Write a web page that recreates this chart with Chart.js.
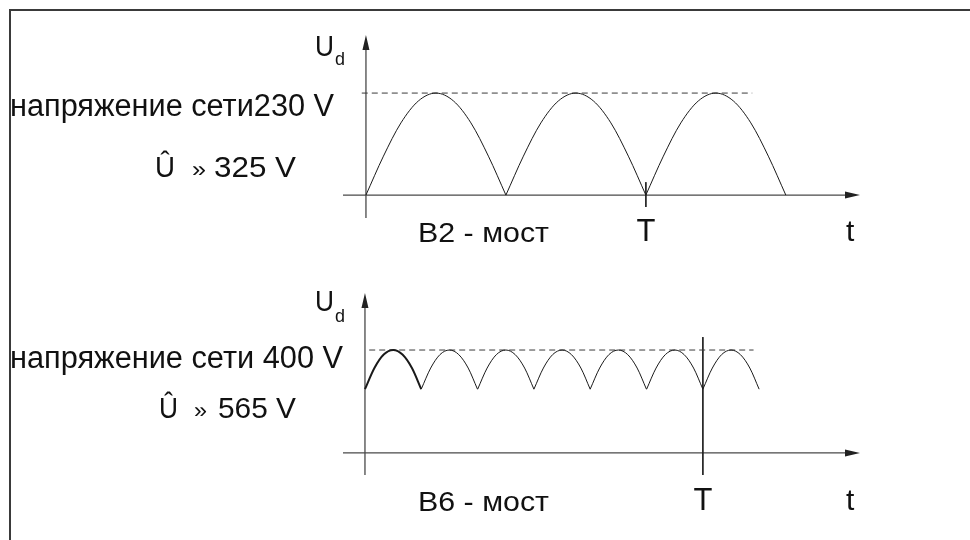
<!DOCTYPE html>
<html>
<head>
<meta charset="utf-8">
<script src="https://cdn.jsdelivr.net/npm/chart.js@4/dist/chart.umd.min.js"></script>
<style>
  body { margin: 0; background: #fff; }
  #wrap { position: relative; width: 970px; height: 540px; overflow: hidden; }
  #frame { position: absolute; left: 9px; top: 9px; width: 970px; height: 540px;
           border-top: 2px solid #3a3a3a; border-left: 2px solid #3a3a3a; }
  .panel { position: absolute; left: 0; }
</style>
</head>
<body>
<div id="wrap">
  <div id="frame"></div>
  <canvas id="b2Chart" class="panel" style="top:0" width="970" height="270"></canvas>
  <canvas id="b6Chart" class="panel" style="top:270px" width="970" height="270"></canvas>
</div>
<script>
// B2 bridge, 230 V mains: three half waves of 10 ms, peak 325 V
const b2Starts = [0, 10, 20];                                   // ms
const b2Offsets = [0, 1.25, 2.5, 3.75, 5, 6.25, 7.5, 8.75, 10]; // ms inside one half wave
const b2Values = [0, 124, 230, 300, 325, 300, 230, 124, 0];     // V
const b2Peak = 325;
const b2PeakLine = [-0.3, 27.6];                                // ms, dashed line ends
const b2Tick = [41, -38];                                       // V, short mark at T

// B6 bridge, 400 V mains: six pulses per period, peak 565 V
const b6Starts = [0, 3.33, 6.67, 10, 13.33, 16.67, 20];         // ms
const b6Offsets = [0, 0.56, 1.11, 1.67, 2.22, 2.78, 3.33];
const b6Values = [350, 466, 540, 565, 540, 466, 350];           // V
const b6Peak = 565;
const b6PeakLine = [0.25, 23];
const b6Tick = [636, -121];

const periodT = 20; // ms

const FONT = '"Liberation Sans", Arial, sans-serif';

// axes with arrow heads through the zero of each scale
const arrowAxes = {
  id: 'arrowAxes',
  beforeDatasetsDraw(chart) {
    const ctx = chart.ctx;
    const a = chart.chartArea;
    const x0 = chart.scales.x.getPixelForValue(0);
    const y0 = chart.scales.y.getPixelForValue(0);
    ctx.save();
    ctx.strokeStyle = '#4a4a4a';
    ctx.fillStyle = '#222';
    ctx.lineWidth = 1.3;
    ctx.beginPath();
    ctx.moveTo(a.left, y0); ctx.lineTo(a.right - 12, y0);
    ctx.moveTo(x0, a.bottom); ctx.lineTo(x0, a.top + 12);
    ctx.stroke();
    ctx.beginPath();
    ctx.moveTo(a.right, y0); ctx.lineTo(a.right - 15, y0 - 3.5); ctx.lineTo(a.right - 15, y0 + 3.5); ctx.closePath();
    ctx.moveTo(x0, a.top); ctx.lineTo(x0 - 3.5, a.top + 15); ctx.lineTo(x0 + 3.5, a.top + 15); ctx.closePath();
    ctx.fill();
    ctx.restore();
  }
};

// text labels, stretched to the width they have in the drawing
function textLabels(items) {
  return {
    id: 'textLabels',
    afterDraw(chart) {
      const ctx = chart.ctx;
      ctx.save();
      ctx.fillStyle = '#111';
      ctx.textBaseline = 'alphabetic';
      items.forEach(function(it) {
        ctx.font = it.size + 'px ' + FONT;
        const w = ctx.measureText(it.text).width;
        const target = it.w || w;
        let left = it.x;
        if (it.t !== undefined) left = chart.scales.x.getPixelForValue(it.t) - target / 2;
        ctx.save();
        ctx.translate(left, it.y);
        ctx.scale(target / w, 1);
        ctx.fillText(it.text, 0, 0);
        ctx.restore();
      });
      ctx.restore();
    }
  };
}

function arches(starts, offsets, values, widths) {
  return starts.map(function(s, i) {
    return {
      data: offsets.map(function(o, k) { return { x: s + o, y: values[k] }; }),
      borderColor: '#1a1a1a',
      borderWidth: widths ? widths[i] : 1,
      cubicInterpolationMode: 'monotone',
      pointRadius: 0
    };
  });
}

function guide(points, dash, color) {
  return {
    data: points,
    borderColor: color,
    borderWidth: 1,
    borderDash: dash,
    pointRadius: 0
  };
}

function baseOptions(xmin, xmax, ymin, ymax, padding) {
  return {
    responsive: false,
    animation: false,
    layout: { padding: padding },
    plugins: { legend: { display: false }, tooltip: { enabled: false } },
    scales: {
      x: { type: 'linear', display: false, min: xmin, max: xmax },
      y: { type: 'linear', display: false, min: ymin, max: ymax }
    }
  };
}

document.addEventListener('DOMContentLoaded', function() {
  // B2 chart
  const b2Ctx = document.getElementById('b2Chart');
  const b2Sets = arches(b2Starts, b2Offsets, b2Values);
  b2Sets.push(guide(b2PeakLine.map(function(t) { return { x: t, y: b2Peak }; }), [6, 4], '#3a3a3a'));
  b2Sets.push(guide(b2Tick.map(function(v) { return { x: periodT, y: v }; }), [], '#222'));
  new Chart(b2Ctx, {
    type: 'line',
    data: { datasets: b2Sets },
    options: baseOptions(-1.64, 35.3, -73, 510, { left: 343, right: 110, top: 35, bottom: 52 }),
    plugins: [arrowAxes, textLabels([
      { text: 'напряжение сети230 V', x: 10, y: 116, size: 31, w: 324 },
      { text: 'Û', x: 155, y: 177, size: 29, w: 20 },
      { text: '»', x: 192, y: 177, size: 22, w: 14 },
      { text: '325 V', x: 214, y: 177, size: 29, w: 82 },
      { text: 'U', x: 315, y: 56, size: 30, w: 19 },
      { text: 'd', x: 335, y: 65, size: 18, w: 10 },
      { text: 'B2 - мост', x: 418, y: 242, size: 28, w: 131 },
      { text: 'T', t: periodT, y: 241, size: 31 },
      { text: 't', x: 846, y: 241, size: 30 }
    ])]
  });

  // B6 chart
  const b6Ctx = document.getElementById('b6Chart');
  const b6Sets = arches(b6Starts, b6Offsets, b6Values, [2, 1, 1, 1, 1, 1, 1]);
  b6Sets.push(guide(b6PeakLine.map(function(t) { return { x: t, y: b6Peak }; }), [6, 4], '#3a3a3a'));
  b6Sets.push(guide(b6Tick.map(function(v) { return { x: periodT, y: v }; }), [], '#222'));
  new Chart(b6Ctx, {
    type: 'line',
    data: { datasets: b6Sets },
    options: baseOptions(-1.3, 29.3, -121, 878, { left: 343, right: 110, top: 23, bottom: 65 }),
    plugins: [arrowAxes, textLabels([
      { text: 'напряжение сети 400 V', x: 10, y: 98, size: 31, w: 333 },
      { text: 'Û', x: 159, y: 148, size: 29, w: 19 },
      { text: '»', x: 194, y: 148, size: 22, w: 13 },
      { text: '565 V', x: 218, y: 148, size: 29, w: 78 },
      { text: 'U', x: 315, y: 41, size: 30, w: 19 },
      { text: 'd', x: 335, y: 52, size: 18, w: 10 },
      { text: 'B6 - мост', x: 418, y: 241, size: 28, w: 131 },
      { text: 'T', t: periodT, y: 240, size: 31 },
      { text: 't', x: 846, y: 240, size: 30 }
    ])]
  });
});
</script>
</body>
</html>
